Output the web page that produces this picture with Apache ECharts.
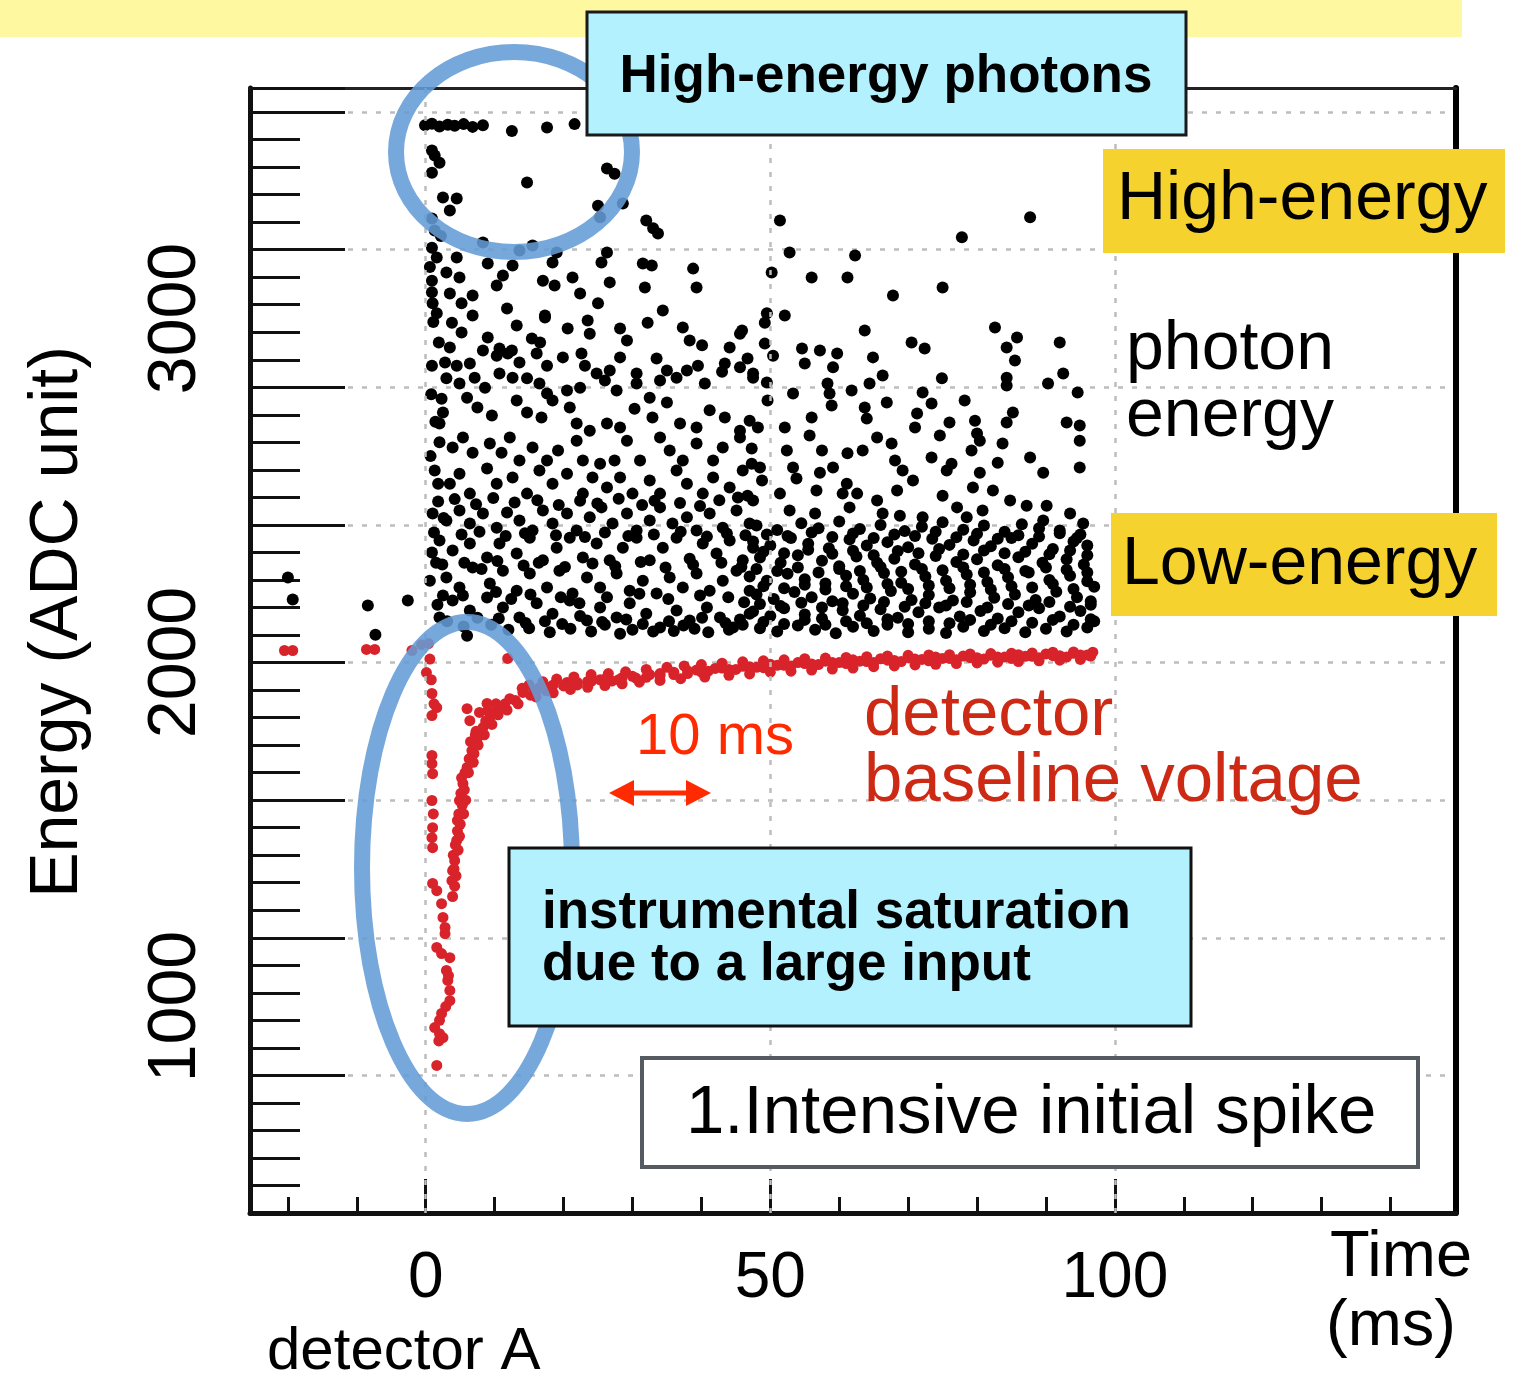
<!DOCTYPE html>
<html>
<head>
<meta charset="utf-8">
<title>detector A energy vs time</title>
<script src="https://cdn.jsdelivr.net/npm/echarts@6/dist/echarts.min.js"></script>
<style>
  html, body { margin: 0; padding: 0; background: #fff; }
  #container { width: 1513px; height: 1376px; }
</style>
</head>
<body>
<div id="container"></div>
<script>
// axis values
var xRange = [-25.5, 149.5];
var yRange = [400, 3670];
var xMinorTicks = [-20, -10, 0, 10, 20, 30, 40, 50, 60, 70, 80, 90, 100, 110, 120, 130, 140];
var xMajorTicks = [0, 50, 100];
var yLabelValues = [1000, 2000, 3000];

// photon events (time ms, ADC)
var photonPoints = [
  [-0.1,3562],[0.9,3566],[2.0,3558],[3.2,3563],[4.2,3560],[5.5,3565],[6.8,3557],[8.3,3562],[12.5,3545],[17.6,3555],[21.6,3565],
  [0.9,3488],[1.3,3474],[2,3453],[0.9,3424],[14.7,3395],[26.3,3436],[27.4,3421],[2.5,3352],[4.5,3349],[3.5,3314],[25,3328],[28.6,3334],
  [0.9,3291],[1.3,3256],[25.3,3294],[32,3285],[33,3262],[33.7,3247],[8.3,3221],[13.6,3198],[15.5,3212],[19,3192],[0.9,3206],[1.6,3177],
  [4.5,3177],[9,3160],[12.6,3154],[18.4,3163],[26.3,3192],[25.5,3163],[31.5,3160],[32.8,3154],[38.8,3145],[3,3134],[4.9,3119],[0.9,3110],
  [11.2,3125],[10.3,3096],[17,3110],[18.7,3096],[21.3,3119],[22.4,3073],[26.7,3105],[31.8,3090],[39.3,3090],[0.9,3076],[3.5,3073],[6.8,3067],
  [5.2,3044],[1,3044],[11.8,3029],[25,3044],[34.4,3023],[1.6,3015],[6.8,3009],[17.3,3009],
  [3.8,2988],[13.2,2980],[17.3,3003],[20.6,2971],[23.5,2994],[23.8,2956],[28.2,2971],[32.2,2988],[37.3,2974],[45.9,2965],
  [5.2,2959],[9,2945],[15.4,2942],[16.6,2930],[3.5,2916],[8.3,2907],[10.7,2913],[12.5,2907],[29.2,2936],[38.3,2936],[40.1,2922],[44.1,2916],[45.6,2956],
  [0.9,2863],[2.8,2872],[4.5,2863],[6.4,2869],[10.3,2892],[11.9,2898],[13.6,2872],[16.1,2898],[17.6,2863],[19.9,2887],[22.6,2898],[23.1,2863],
  [26.7,2849],[28.2,2887],[30.6,2840],[33.5,2884],[35,2849],[37.9,2849],[39.5,2863],[43.4,2869],[46.7,2884],[47.5,2828],
  [3,2826],[4.9,2811],[7.1,2828],[8.6,2799],[10.7,2840],[12.6,2828],[14.7,2826],[16.5,2811],[17.6,2782],[20.5,2791],[22.4,2799],[24.8,2840],
  [26,2820],[27.7,2791],[30.6,2811],[32.5,2770],[34,2820],[36.4,2828],[40.5,2811],[43,2845],[45.6,2858],
  [2.3,2767],[2.5,2727],[2,2695],[6,2770],[7.5,2741],[9.6,2718],[13.2,2762],[14.7,2727],[16.8,2712],[18.4,2762],[20.9,2741],[21.9,2695],
  [23.8,2674],[26.3,2695],[28.2,2683],[30.3,2738],[32.9,2712],[35,2756],[36.9,2695],[39.3,2683],[41.2,2733],[43.4,2712],[45.6,2674],[47,2703],
  [2,2640],[3.9,2625],[5.4,2654],[6.8,2610],[9.3,2637],[11,2610],[12.2,2654],[13.6,2587],[15.5,2625],[17.6,2587],[19.2,2616],[21.9,2645],
  [22.8,2587],[25.3,2578],[27.4,2587],[29.2,2645],[31.1,2587],[34,2654],[35.4,2616],[37.3,2587],[39.3,2637],[41.7,2587],[43.1,2625],[45.6,2654],[47.3,2578],
  [1.3,2558],[3.5,2520],[4.9,2549],[6.4,2491],[8.9,2564],[10.3,2520],[12.6,2538],[14.7,2491],[16.5,2558],[18.4,2520],[20.5,2549],[22.8,2491],
  [24.2,2538],[26.3,2509],[28.2,2538],[30,2491],[32.5,2529],[34,2491],[36.4,2558],[37.9,2520],[40.2,2491],[41.7,2538],[44.1,2509],[46,2558],[46.7,2485],
  [1,2433],[3,2413],[4.9,2442],[6.4,2404],[8.3,2433],[10.3,2392],[11.8,2436],[13.6,2413],[15.5,2384],[17,2442],[18.4,2404],[20.5,2433],[21.9,2384],
  [23.8,2422],[25.5,2451],[27.1,2404],[29.2,2433],[30.6,2384],[32.5,2413],[34,2451],[35.8,2404],[37.9,2422],[39.3,2384],[41.2,2433],[43.1,2392],[45.1,2442],[47,2404],
  [2,2355],[3.9,2326],[6.4,2346],[8.9,2305],[10.7,2346],[13.2,2317],[15.1,2363],[17,2297],[19,2334],[20.9,2363],[22.8,2305],[24.8,2346],
  [26.7,2297],[28.6,2334],[30.6,2363],[32.5,2297],[34.4,2334],[36.4,2363],[38.3,2302],[40.2,2346],[42.2,2317],[44.1,2355],[46,2297],[47.5,2334],
  [0.6,2238],[3,2247],[4.9,2218],[6.8,2276],[9.3,2230],[11.2,2267],[13.2,2209],[15.1,2259],[17.6,2218],[19.4,2267],[21.3,2201],[23.4,2247],
  [25.3,2218],[27.7,2259],[29.6,2209],[31.5,2238],[33.5,2201],[35.4,2247],[37.3,2218],[39.3,2259],[41.2,2209],[43.1,2238],[45.1,2267],[47,2209],
  [3.9,2180],[6.4,2151],[8.9,2189],[11.2,2160],[13.6,2131],[16.1,2172],[18.4,2142],[20.9,2180],[23.4,2122],[25.3,2160],[27.7,2131],[29.6,2172],
  [32,2142],[34,2102],[36.4,2151],[38.3,2122],[40.8,2160],[42.7,2131],[44.6,2102],[47,2142],[6,2078],[28.2,2084],
  [1.5,2290],[2.5,2195],[5.5,2105],[9.5,2110],[12,2095],[15,2100],[18,2088],[21,2098],[24,2090],[26,2110],[30,2095],[33,2090],[36,2092],
  [39,2098],[41,2088],[44,2095],[46,2110],
  [1.8,2468],[4.2,2475],[7.3,2460],[9.8,2478],[12.9,2465],[16.2,2472],[19.3,2458],[22.4,2470],[24.9,2462],[28.0,2476],[31.4,2458],[33.2,2470],
  [36.9,2464],[39.8,2455],[42.6,2472],[45.3,2480],
  [1.2,2378],[5.2,2372],[7.8,2380],[11.6,2368],[14.4,2376],[18.9,2370],[23.1,2365],[26,2378],[29.4,2368],[33.1,2372],[37,2380],[40.8,2366],[43.7,2375],[46.4,2370],
  [2.4,2285],[5.6,2290],[8.1,2272],[10.4,2295],[14.2,2282],[16.4,2290],[20.2,2278],[24.2,2288],[27.5,2280],[31.2,2292],[34.8,2276],[38.8,2284],[42.9,2290],[45.8,2278],
  [1.7,2168],[5.4,2195],[10.2,2205],[12.4,2185],[15.2,2198],[19.6,2190],[22.3,2172],[26.3,2190],[31,2200],[35.2,2185],[39.8,2195],[43.9,2190],[46.2,2175],
  [3.1,2120],[7.5,2130],[10.6,2128],[14.5,2115],[17.3,2120],[19.8,2112],[22.4,2135],[25.6,2118],[29.1,2125],[31.5,2112],[35.3,2120],[37.4,2108],
  [40.1,2130],[43.5,2115],[45.6,2125],
  [0.7,2600],[1.4,2700],[0.8,2780],[1.9,2930],[1.1,2990],[0.6,3150],[2.2,3240],[1.8,2520],[0.9,2320],[2.6,2420],
  [-20,2247],[-19.3,2183],[-8.4,2166],[-7.3,2081],[-2.6,2180],[2,2131],
  [51.4,3285],[87.7,3294],[52.8,3192],[62.3,3183],[77.8,3236],[50.2,3134],[56,3119],[61.2,3119],[67.8,3067],[75,3090],[49.5,3015],[49.2,2988],
  [52.1,3009],[63.7,2965],[82.6,2974],[70.5,2930],[72.4,2913],[85.8,2945],[92,2930],[84.3,2916],[49.2,2927],[50.4,2892],[54.6,2913],[57.2,2907],
  [59.7,2898],[55,2869],[59.1,2858],[64.9,2887],[85.5,2878],[66.3,2834],[64.4,2811],[74.9,2826],[72.1,2785],[84.3,2828],[84.3,2805],[92.5,2840],
  [90.3,2811],[94.6,2785],[47.5,2840],[49.5,2814],[53.3,2782],[58.3,2811],[58.6,2782],[61.8,2791],[78.2,2762],[49.6,2762],[58.9,2747],[63.7,2741],
  [66.9,2756],[73.4,2753],[85.2,2727],[71.3,2724],[64,2709],[76,2698],[79.7,2703],[84.3,2698],[93,2698],[94.9,2689],[56,2712],[52.1,2683],
  [48.2,2683],[71,2683],[74.6,2660],[80,2666],[94.9,2645],[55.7,2660],[65.5,2654],[67.6,2637],[80.4,2645],[83.7,2637],[47.3,2622],[52.4,2616],
  [57.5,2616],[61.2,2608],[63.4,2616],[79.2,2616],[87.7,2596],[83,2581],[73.4,2596],[76.3,2578],[68.1,2587],[89.6,2552],[94.9,2567],[69.2,2558],
  [75.6,2558],[80.4,2552],[48.5,2567],[53.3,2567],[57.2,2552],[59.1,2567],[70.7,2529],[48.8,2529],[53.8,2535],[61.1,2520],[62.6,2491],[51.4,2491],
  [56.7,2500],[60.5,2491],[68.4,2500],[75,2485],[79.4,2509],[82.3,2500],[84.8,2471],[87.2,2456],[90.1,2456],[93.5,2433],[95.4,2404],[89.6,2413],
  [47.5,2471],[52.8,2442],[56.5,2433],[61.5,2451],[65.5,2471],[66.3,2433],[77.1,2451],[78.5,2422],[80.8,2442],[72.1,2422],[68.8,2427],
  [48,2398],[51,2385],[54.5,2405],[57,2390],[60,2410],[63,2388],[66,2400],[69.5,2382],[72,2395],[75,2408],[78,2386],[81,2398],[84,2380],[86.5,2402],[89,2390],[92,2384],[95,2372],
  [47.5,2352],[50,2340],[53,2362],[55.5,2345],[58.5,2332],[61.5,2358],[64,2340],[67,2350],[70,2335],[73.5,2360],[76,2342],[79.5,2355],[82,2338],[85,2362],[88,2345],[91,2330],[94,2352],[96,2340],
  [48.5,2305],[51.5,2290],[54,2312],[57.5,2296],[60,2280],[62.5,2308],[65.5,2290],[68,2302],[71,2285],[74,2310],[77,2292],[80,2300],[83,2283],[86,2306],[89.5,2290],[93,2300],[95.5,2285],
  [47,2250],[49.5,2238],[52.5,2258],[55,2242],[58,2230],[61,2252],[63.5,2240],[66.5,2260],[69,2232],[72.5,2250],[75.5,2238],[78.5,2256],[81.5,2234],[84.5,2248],[87.5,2262],[90.5,2240],[93.5,2252],[96,2236],
  [48,2198],[50.5,2185],[53.5,2205],[56,2190],[59,2178],[62,2200],[64.5,2186],[67.5,2208],[70.5,2182],[73,2196],[76.5,2180],[79,2204],[82.5,2188],[85.5,2198],[88.5,2182],[91.5,2206],[94.5,2190],[96.5,2178],
  [47.5,2148],[50,2135],[52,2158],[55,2140],[57.5,2128],[60.5,2152],[63,2136],[66,2155],[68.5,2130],[71.5,2146],[74.5,2160],[77.5,2134],[80.5,2150],[83,2128],[86,2146],[89,2158],[92,2134],[95,2150],[96.5,2126],
  [48.5,2100],[51,2090],[54,2108],[56.5,2095],[59.5,2085],[62,2104],[65,2092],[67,2110],[70,2088],[73,2098],[75.5,2086],[78,2104],[81,2092],[84,2100],[87,2088],[90,2098],[93,2090],[96,2102],
  [49.5,2372],[52.5,2368],[56,2378],[59,2365],[62,2375],[65,2362],[68,2372],[71,2368],[74,2380],[77,2364],[80,2374],[83,2360],[86,2370],[89,2366],[92,2376],[94.5,2362],
  [49,2322],[52,2318],[55.5,2328],[59,2316],[62,2325],[65,2312],[68.5,2324],[71.5,2318],[74.5,2330],[78,2314],[81,2326],[84,2318],[87,2322],[90.5,2315],[93.5,2326],[96,2312],
  [48,2272],[51,2266],[54,2276],[57,2262],[60,2272],[63,2266],[66,2278],[69,2264],[72,2272],[75,2268],[78,2276],[81,2262],[84,2272],[87,2266],[90,2276],[93,2270],[96,2262],
  [49,2222],[52,2216],[55,2226],[58,2212],[61,2222],[64,2218],[67,2228],[70,2214],[73,2224],[76,2216],[79,2226],[82,2212],[85,2222],[88,2218],[91,2228],[94,2214],[97,2220],
  [48.5,2170],[51.5,2164],[54.5,2174],[57.5,2160],[60.5,2172],[63.5,2166],[66.5,2176],[69.5,2162],[72.5,2172],[75.5,2166],[78.5,2176],[81.5,2160],[84.5,2170],[87.5,2166],[90.5,2176],[93.5,2162],[96.5,2168],
  [49,2118],[52,2112],[55,2124],[58,2110],[61,2120],[64,2114],[67,2126],[70,2112],[73,2120],[76,2114],[79,2124],[82,2110],[85,2120],[88,2116],[91,2124],[94,2110],[97,2120]
];

// detector baseline (time ms, ADC)
var baselinePoints = [
  [-20.5,2035],[-19.3,2035],[-8.6,2038],[-7.4,2038],[-2,2035],[-0.6,2052],[0.4,2055],[0.6,2010],
  [0.1,1971],[0.8,1950],[0.9,1910],[1.2,1880],[1.6,1869],[0.9,1846],[0.9,1730],[0.9,1706],[1,1677],[0.9,1599],[1.1,1560],[1.0,1520],
  [0.9,1491],[1,1462],[1,1358],[1.6,1337],[2.3,1299],[2.5,1259],[2.8,1230],[2.8,1212],[1.6,1172],[2.3,1154],[3.5,1142],[3,1105],
  [3.3,1090],[3.2,1076],[3.5,1047],[3.5,1017],[2.9,1000],[2.3,980],[2.0,960],[1.3,939],[2,921],[2.5,910],[1.9,900],[1.6,829],
  [3.8,1366],[3.9,1395],[4.2,1424],[4.0,1440],[4.3,1470],[4.5,1483],[4.6,1510],[4.6,1541],[4.8,1560],[4.9,1599],[5.1,1620],[5.4,1648],
  [5.2,1665],[5.7,1680],[6,1695],[6.3,1720],[6.7,1744],[7.0,1735],[7.4,1773],[7.2,1790],[8.0,1795],[8.3,1811],[8.7,1830],[9.3,1840],
  [10.0,1855],[10.7,1869],[11.5,1880],[12.2,1895],[13.0,1890],[14.1,1913],[15.2,1905],[16.5,1927],[17.5,1918],[18.5,1935],[20.5,1942],
  [4.4,1380],[4.7,1455],[5.0,1530],[5.3,1585],[5.6,1630],[6.2,1680],[6.9,1710],[7.6,1760],[8.5,1790],[9.6,1820],[10.5,1848],[11.8,1862],
  [13.4,1880],[5.8,1600],[4.2,1350],[4.1,1400],[3.9,1320],[4.9,1495],[5.5,1560],[6.5,1770],[7.3,1800],[9.0,1860],[10.2,1880],
  [6,1866],[6.4,1831],[7.8,1855],[8.9,1881],[11.9,2012],
  [22,1935],[23.5,1945],[25.3,1950],[27,1946],[28.5,1956],[30.5,1955],[32.5,1965],[34,1962],[36,1972],[38,1968],[39.3,1978],[41,1975],
  [43,1984],[45,1980],[47,1988],[49,1985],[51,1992],[53,1990],[55,1997],[57,1994],[59,2000],[61,1997],[63,2004],[65,2000],[67,2007],
  [69,2003],[71,2010],[73,2005],[75,2012],[77,2008],[79,2014],[81,2010],[83,2016],[85,2012],[87,2018],[89,2014],[91,2020],[93,2016],
  [95,2022],[96.5,2019],
  [15,1935],[17,1944],[19,1952],[21.5,1958],[24,1965],[26.5,1968],[29,1973],[32,1980],[35,1986],[37.5,1990],[40,1994],[43,1998],[46,2002],
  [49,2005],[52,2008],[55,2011],[58,2013],[61,2015],[64,2017],[67,2019],[70,2021],[73,2022],[76,2023],[79,2025],[82,2026],[85,2027],
  [88,2028],[91,2030],[94,2031],[96.8,2030],
  [16,1900],[18.5,1912],[21,1922],[23.5,1928],[26,1933],[28.5,1938],[31,1943],[34,1948],[37,1953],[40.5,1958],[44,1963],[47,1967],
  [50,1972],[53,1975],[56,1978],[59,1981],[62,1984],[65,1988],[68,1990],[71,1993],[74,1995],[77,1997],[80,1999],[83,2001],[86,2003],
  [89,2005],[92,2007],[95,2009],
  [14,1925],[16,1918],[18,1928],[20,1932],[22,1942],[24,1945],[26,1952],[28,1950],[30,1960],[32,1957],[34,1968],[36,1965],[38,1976],
  [40,1972],[42,1983],[44,1980],[46,1989],[48,1986],[50,1995],[52,1992],[54,2000],[56,1996],[58,2004],[60,2000],[62,2008],[64,2003],
  [66,2011],[68,2006],[70,2014],[72,2009],[74,2016],[76,2012],[78,2019],[80,2014],[82,2021],[84,2016],[86,2023],[88,2018],[90,2025],
  [92,2020],[94,2027],[96,2022]
];

var fontFamily = "'Liberation Sans', Arial, Helvetica, sans-serif";
var gridLine = { color: '#bdbdbd', width: 2.5, type: [5, 9] };

var myChart = echarts.init(document.getElementById('container'), null, { renderer: 'canvas' });

var option = {
  animation: false,
  backgroundColor: '#ffffff',
  grid: {
    left: 250, top: 88, right: 57, bottom: 163,
    containLabel: false, outerBoundsMode: 'none'
  },
  xAxis: [
    {
      type: 'value', position: 'bottom', min: xRange[0], max: xRange[1],
      axisLine: { onZero: false, lineStyle: { color: '#111', width: 5 } },
      axisTick: { inside: true, length: 16, customValues: xMinorTicks, lineStyle: { color: '#111', width: 3 } },
      axisLabel: { show: false },
      splitLine: { show: false }
    },
    {
      type: 'value', position: 'bottom', min: xRange[0], max: xRange[1],
      axisLine: { show: false, onZero: false },
      axisTick: { inside: true, length: 34, customValues: xMajorTicks, lineStyle: { color: '#111', width: 3 } },
      axisLabel: {
        customValues: xMajorTicks, color: '#000', fontSize: 64, fontFamily: fontFamily, margin: 34
      },
      splitLine: { show: false }
    },
    {
      type: 'value', position: 'top', min: xRange[0], max: xRange[1],
      axisLine: { onZero: false, lineStyle: { color: '#222', width: 3 } },
      axisTick: { show: false }, axisLabel: { show: false }, splitLine: { show: false }
    }
  ],
  yAxis: [
    {
      type: 'value', position: 'left', min: yRange[0], max: yRange[1], interval: 400,
      axisLine: { onZero: false, lineStyle: { color: '#111', width: 5 } },
      axisTick: { inside: true, length: 95, lineStyle: { color: '#111', width: 3 } },
      minorTick: { show: true, splitNumber: 5, length: 50, lineStyle: { color: '#111', width: 3 } },
      axisLabel: {
        customValues: yLabelValues, rotate: 90, color: '#000', fontSize: 68, fontFamily: fontFamily, margin: 40,
        formatter: function (v) { return String(v); }
      },
      splitLine: { show: true, lineStyle: gridLine }
    },
    {
      type: 'value', position: 'right', min: yRange[0], max: yRange[1],
      axisLine: { onZero: false, lineStyle: { color: '#000', width: 6 } },
      axisTick: { show: false }, axisLabel: { show: false }, splitLine: { show: false }
    }
  ],
  series: [
    {
      name: 'photons', type: 'scatter', xAxisIndex: 0, yAxisIndex: 0,
      data: photonPoints, symbolSize: 12,
      itemStyle: { color: '#000', opacity: 1 },
      markLine: {
        silent: true, symbol: ['none', 'none'], label: { show: false },
        lineStyle: gridLine,
        data: xMajorTicks.map(function (v) { return { xAxis: v }; })
      },
      z: 3
    },
    {
      name: 'baseline', type: 'scatter', xAxisIndex: 0, yAxisIndex: 0,
      data: baselinePoints, symbolSize: 11,
      itemStyle: { color: '#d9232b', opacity: 1 },
      z: 4
    }
  ],
  graphic: {
    elements: [
      { type: 'rect', shape: { x: 0, y: 0, width: 1462, height: 37 }, style: { fill: '#fef8a0' }, z: 1 },
      // top-left ring
      { type: 'ellipse', shape: { cx: 514, cy: 152, rx: 118, ry: 100 },
        style: { fill: 'none', stroke: 'rgba(100,156,214,0.88)', lineWidth: 16 }, z: 50 },
      // saturation ring
      { type: 'ellipse', shape: { cx: 467, cy: 868, rx: 105, ry: 246 },
        style: { fill: 'none', stroke: 'rgba(100,156,214,0.88)', lineWidth: 16 }, z: 50 },
      { type: 'rect', shape: { x: 587, y: 12, width: 599, height: 123 },
        style: { fill: '#b2f1fd', stroke: '#1a1a1a', lineWidth: 3 }, z: 60 },
      { type: 'text', x: 886, y: 77, z: 61,
        style: { text: 'High-energy photons', fontSize: 53, fontWeight: 'bold', fontFamily: fontFamily,
                 fill: '#000', align: 'center', verticalAlign: 'middle' } },
      { type: 'rect', shape: { x: 1103, y: 149, width: 402, height: 104 }, style: { fill: '#f5d22e' }, z: 60 },
      { type: 'text', x: 1117, y: 200, z: 61,
        style: { text: 'High-energy', fontSize: 68, fontFamily: fontFamily, fill: '#000', align: 'left', verticalAlign: 'middle' } },
      { type: 'text', x: 1126, y: 350, z: 61,
        style: { text: 'photon', fontSize: 68, fontFamily: fontFamily, fill: '#000', align: 'left', verticalAlign: 'middle' } },
      { type: 'text', x: 1126, y: 417, z: 61,
        style: { text: 'energy', fontSize: 68, fontFamily: fontFamily, fill: '#000', align: 'left', verticalAlign: 'middle' } },
      { type: 'rect', shape: { x: 1111, y: 513, width: 386, height: 103 }, style: { fill: '#f5d22e' }, z: 60 },
      { type: 'text', x: 1122, y: 565, z: 61,
        style: { text: 'Low-energy', fontSize: 68, fontFamily: fontFamily, fill: '#000', align: 'left', verticalAlign: 'middle' } },
      // 10 ms scale marker
      { type: 'text', x: 636, y: 738, z: 61,
        style: { text: '10 ms', fontSize: 58, fontFamily: fontFamily, fill: '#ff2a00', align: 'left', verticalAlign: 'middle' } },
      { type: 'line', shape: { x1: 628, y1: 793, x2: 692, y2: 793 }, style: { stroke: '#ff2a00', lineWidth: 5 }, z: 61 },
      { type: 'polygon', shape: { points: [[609, 793], [634, 780], [634, 806]] }, style: { fill: '#ff2a00' }, z: 61 },
      { type: 'polygon', shape: { points: [[711, 793], [686, 780], [686, 806]] }, style: { fill: '#ff2a00' }, z: 61 },
      { type: 'text', x: 864, y: 716, z: 61,
        style: { text: 'detector', fontSize: 69, fontFamily: fontFamily, fill: '#cc2a14', align: 'left', verticalAlign: 'middle' } },
      { type: 'text', x: 864, y: 782, z: 61,
        style: { text: 'baseline voltage', fontSize: 69, fontFamily: fontFamily, fill: '#cc2a14', align: 'left', verticalAlign: 'middle' } },
      // saturation note
      { type: 'rect', shape: { x: 509, y: 848, width: 682, height: 178 },
        style: { fill: '#b2f1fd', stroke: '#111', lineWidth: 3 }, z: 60 },
      { type: 'text', x: 542, y: 913, z: 61,
        style: { text: 'instrumental saturation', fontSize: 53, fontWeight: 'bold', fontFamily: fontFamily,
                 fill: '#000', align: 'left', verticalAlign: 'middle' } },
      { type: 'text', x: 542, y: 965, z: 61,
        style: { text: 'due to a large input', fontSize: 53, fontWeight: 'bold', fontFamily: fontFamily,
                 fill: '#000', align: 'left', verticalAlign: 'middle' } },
      { type: 'rect', shape: { x: 642, y: 1058, width: 776, height: 109 },
        style: { fill: '#fff', stroke: '#555b61', lineWidth: 4 }, z: 60 },
      { type: 'text', x: 686, y: 1114, z: 61,
        style: { text: '1.Intensive initial spike', fontSize: 69, fontFamily: fontFamily, fill: '#000', align: 'left', verticalAlign: 'middle' } },
      // axis titles
      { type: 'text', x: 58, y: 622, rotation: Math.PI / 2, z: 61,
        style: { text: 'Energy (ADC unit)', fontSize: 68, fontFamily: fontFamily, fill: '#000', align: 'center', verticalAlign: 'middle' } },
      { type: 'text', x: 267, y: 1352, z: 61,
        style: { text: 'detector A', fontSize: 60, fontFamily: fontFamily, fill: '#000', align: 'left', verticalAlign: 'middle' } },
      { type: 'text', x: 1330, y: 1258, z: 61,
        style: { text: 'Time', fontSize: 65, fontFamily: fontFamily, fill: '#000', align: 'left', verticalAlign: 'middle' } },
      { type: 'text', x: 1326, y: 1327, z: 61,
        style: { text: '(ms)', fontSize: 65, fontFamily: fontFamily, fill: '#000', align: 'left', verticalAlign: 'middle' } }
    ]
  }
};

if (option && typeof option === 'object') {
  myChart.setOption(option);
}
</script>
</body>
</html>
